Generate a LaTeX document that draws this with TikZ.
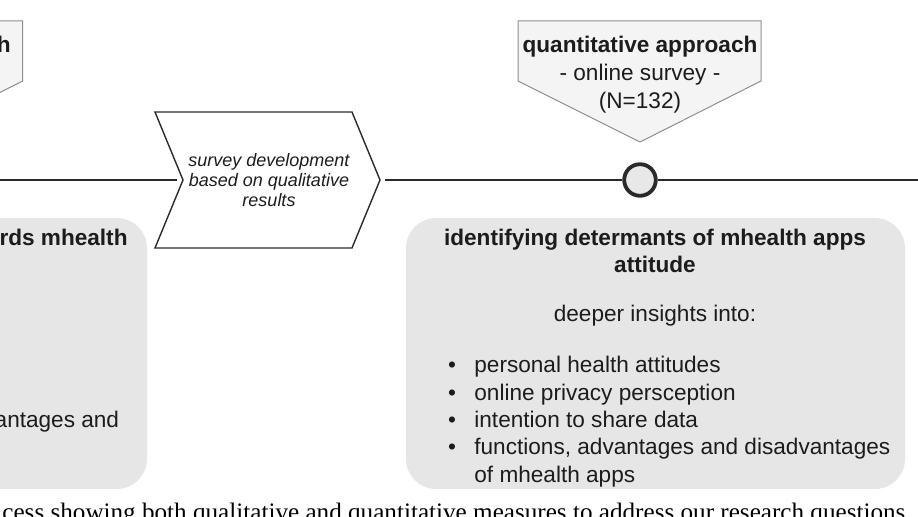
\documentclass[tikz,border=0pt]{standalone}
\usepackage{fontspec}
\setmainfont{Liberation Sans}
\newfontfamily\capfont{Liberation Serif}
\usepackage{graphicx}
\usepackage{xcolor}
\usepackage{tikz}
\usetikzlibrary{positioning,calc}
\definecolor{linegray}{HTML}{2A2A2A}
\definecolor{boxgray}{HTML}{E6E6E6}
\definecolor{callfill}{HTML}{F4F4F4}
\definecolor{callline}{HTML}{8E8E8E}
\definecolor{textgray}{HTML}{1C1C1C}

\begin{document}
\begin{tikzpicture}[x=0.5pt,y=-0.5pt,
  txt/.style={inner sep=0pt,text=textgray,font=\fontsize{11.3}{13.65}\selectfont},
  bftxt/.style={txt,font=\fontsize{11.3}{13.65}\selectfont\bfseries},
  timeline/.style={linegray,line width=1.3pt},
  callout/.style={draw=callline,fill=callfill,line width=0.5pt,line join=miter},
  resultbox/.style={fill=boxgray,rounded corners=15pt}]
  \useasboundingbox (0,0) rectangle (918,517);
  \clip (0,0) rectangle (918,517);
  \fill[resultbox] (-352,218) rectangle (147,489);
  \fill[resultbox] (406,218) rectangle (905,489);
  \draw[callout] (-221,21) -- (22.7,21) -- (22.7,81) -- (-99,142) -- (-221,81) -- cycle;
  \draw[callout] (518,21) -- (761,21) -- (761,81) -- (640,142) -- (518,81) -- cycle;
  \coordinate (notch) at (183,180);
  \coordinate (tip) at (380,180);
  \coordinate (tl-in) at (-20,180);
  \coordinate (tl-out) at (940,180);
  \draw[linegray,line width=0.7pt,line join=miter] (155,112) -- (352,112) -- (tip)
    -- (352,248) -- (155,248) -- (notch) -- cycle;
  \node[txt,align=center,font=\fontsize{9}{10.15}\selectfont\itshape] (dev-lbl) at (269,180)
    {survey development\\based on qualitative\\results};
  \node[circle,draw=linegray,line width=1.9pt,fill=callfill!90!gray,minimum size=15.8pt,inner sep=0pt] (quant) at (640,180) {};
  \draw[timeline] (tl-in) -- ([xshift=-3pt]notch);
  \draw[timeline] ([xshift=2.5pt]tip) -- (quant);
  \draw[timeline] (quant) -- (tl-out);
  \node[bftxt,anchor=base east] (qlt-head) at (11,53) {h};
  \node[bftxt,anchor=base east] (qlt-title) at (128,246) {rds mhealth};
  \node[txt,anchor=base east] (qlt-item) at (119.5,427.5) {antages and};
  \node[bftxt,anchor=base] (qnt-head) at (640,53) {quantitative approach};
  \node[txt,anchor=base] (qnt-meth) at (640,81) {- online survey -};
  \node[txt,anchor=base] (qnt-n) at (640,108.5) {(N=132)};
  \node[bftxt,anchor=base] (qnt-title) at (655,246) {identifying determants of mhealth apps};
  \node[bftxt,anchor=base] (qnt-title2) at (655,273) {attitude};
  \node[txt,anchor=base] (qnt-lead) at (655,322) {deeper insights into:};
  \foreach \lbl [count=\i from 0] in {personal health attitudes,online privacy persception,
      intention to share data,{functions, advantages and disadvantages}} {
    \node[txt,anchor=base] (qnt-dot\i) at (452,373+27.3*\i) {\textbullet};
    \node[txt,anchor=base west] (qnt-item\i) at (474,373+27.3*\i) {\lbl};
  }
  \node[txt,anchor=base west] (qnt-item4) at (474,482.2) {of mhealth apps};
  \node[inner sep=0pt,anchor=base west] (caption) at (2,521)
    {\resizebox{451.5pt}{!}{\capfont cess showing both qualitative and quantitative measures to address our research questions}};
\end{tikzpicture}
\end{document}
